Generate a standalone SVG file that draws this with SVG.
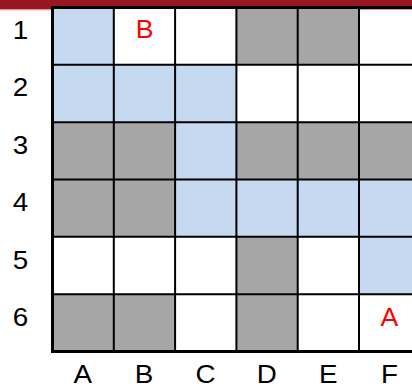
<svg xmlns="http://www.w3.org/2000/svg" width="412" height="387" viewBox="0 0 412 387">
<style>
.b{fill:#C5D9F1}
.g{fill:#A6A6A6}
.w{fill:#FFFFFF}
.in{stroke:#000;stroke-width:2;fill:none}
.out{stroke:#000;stroke-width:3;fill:none}
.lab{font-family:"Liberation Sans",Arial,sans-serif;font-size:26px;fill:#000;text-anchor:middle}
.red{font-family:"Liberation Sans",Arial,sans-serif;font-size:25px;fill:#FF0000;text-anchor:middle}
</style>
<rect width="412" height="387" fill="#FFFFFF"/>
<rect x="0" y="0" width="412" height="9.5" fill="#97161F"/>
<rect x="0" y="9.5" width="412" height="1" fill="#E6B3B6"/>
<g id="cells">
<!-- row 1 -->
<rect class="b" x="52.5" y="7.5" width="61.3" height="57.3"/>
<rect class="w" x="113.8" y="7.5" width="61.3" height="57.3"/>
<rect class="w" x="175.1" y="7.5" width="61.3" height="57.3"/>
<rect class="g" x="236.4" y="7.5" width="61.3" height="57.3"/>
<rect class="g" x="297.7" y="7.5" width="61.3" height="57.3"/>
<rect class="w" x="359" y="10.5" width="61.3" height="54.3"/>
<!-- row 2 -->
<rect class="b" x="52.5" y="64.8" width="61.3" height="57.4"/>
<rect class="b" x="113.8" y="64.8" width="61.3" height="57.4"/>
<rect class="b" x="175.1" y="64.8" width="61.3" height="57.4"/>
<!-- row 3 -->
<rect class="g" x="52.5" y="122.2" width="61.3" height="57.3"/>
<rect class="g" x="113.8" y="122.2" width="61.3" height="57.3"/>
<rect class="b" x="175.1" y="122.2" width="61.3" height="57.3"/>
<rect class="g" x="236.4" y="122.2" width="61.3" height="57.3"/>
<rect class="g" x="297.7" y="122.2" width="61.3" height="57.3"/>
<rect class="g" x="359" y="122.2" width="61.3" height="57.3"/>
<!-- row 4 -->
<rect class="g" x="52.5" y="179.5" width="61.3" height="57.3"/>
<rect class="g" x="113.8" y="179.5" width="61.3" height="57.3"/>
<rect class="b" x="175.1" y="179.5" width="61.3" height="57.3"/>
<rect class="b" x="236.4" y="179.5" width="61.3" height="57.3"/>
<rect class="b" x="297.7" y="179.5" width="61.3" height="57.3"/>
<rect class="b" x="359" y="179.5" width="61.3" height="57.3"/>
<!-- row 5 -->
<rect class="g" x="236.4" y="236.8" width="61.3" height="57.4"/>
<rect class="b" x="359" y="236.8" width="61.3" height="57.4"/>
<!-- row 6 -->
<rect class="g" x="52.5" y="294.2" width="61.3" height="57.3"/>
<rect class="g" x="113.8" y="294.2" width="61.3" height="57.3"/>
<rect class="g" x="236.4" y="294.2" width="61.3" height="57.3"/>
</g>
<g id="gridlines">
<path class="in" d="M113.8 7.5V351.5M175.1 7.5V351.5M236.4 7.5V351.5M297.7 7.5V351.5M359 7.5V351.5"/>
<path class="in" d="M52.5 64.8H412M52.5 122.2H412M52.5 179.5H412M52.5 236.8H412M52.5 294.2H412"/>
<path class="out" d="M412 7.5H52.5V351.5H412"/>
</g>
<g id="row-labels">
<text class="lab" transform="matrix(1.07 0 0 1 20.5 38.5)">1</text>
<text class="lab" transform="matrix(1.07 0 0 1 20.5 96)">2</text>
<text class="lab" transform="matrix(1.07 0 0 1 20.5 153.5)">3</text>
<text class="lab" transform="matrix(1.07 0 0 1 20.5 211)">4</text>
<text class="lab" transform="matrix(1.07 0 0 1 20.5 268.5)">5</text>
<text class="lab" transform="matrix(1.07 0 0 1 20.5 326)">6</text>
</g>
<g id="col-labels">
<text class="lab" transform="matrix(1.07 0 0 1 82.7 382.5)">A</text>
<text class="lab" transform="matrix(1.07 0 0 1 144.1 382.5)">B</text>
<text class="lab" transform="matrix(1.07 0 0 1 205.5 382.5)">C</text>
<text class="lab" transform="matrix(1.07 0 0 1 266.8 382.5)">D</text>
<text class="lab" transform="matrix(1.07 0 0 1 328.2 382.5)">E</text>
<text class="lab" transform="matrix(1.07 0 0 1 389.6 382.5)">F</text>
</g>
<g id="markers">
<text class="red" transform="matrix(1.07 0 0 1 144.6 38)">B</text>
<text class="red" transform="matrix(1.07 0 0 1 389.3 326)">A</text>
</g>
</svg>
